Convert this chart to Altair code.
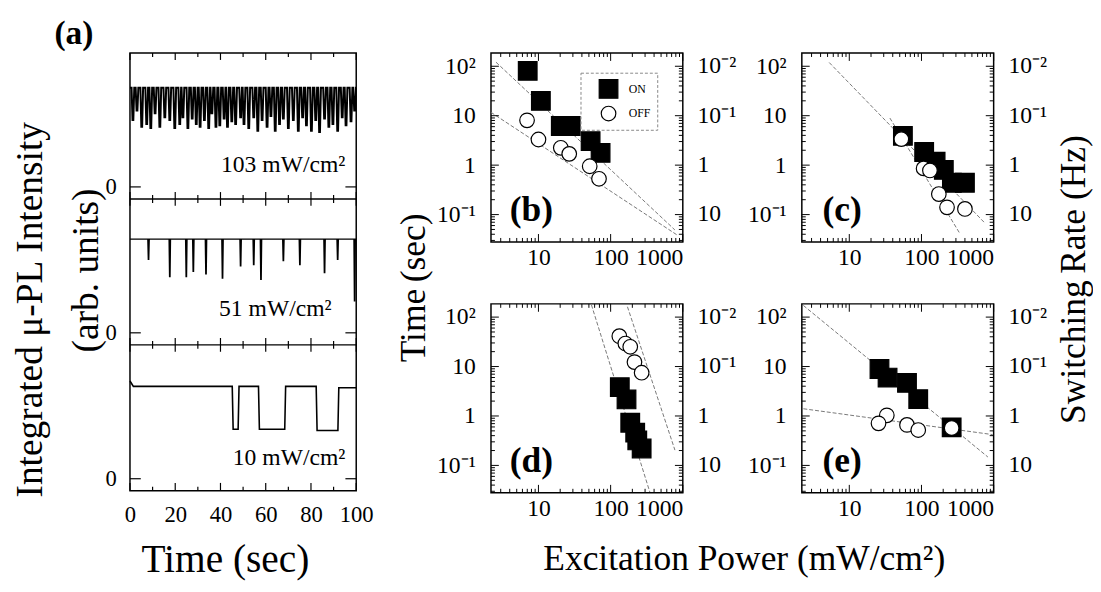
import altair as alt
import pandas as pd

FONT = "Liberation Serif"

# ---------------- (a) PL intensity traces ----------------
on_103 = 0.74
dip_t_103 = [1.3, 3.1, 5.2, 7.4, 9.2, 11.1, 13.2, 15.4, 17.6, 19.8, 22.0, 23.4, 25.6, 27.5, 29.3,
             31.0, 32.9, 34.8, 36.2, 38.0, 39.7, 41.6, 43.1, 45.0, 46.7, 48.9, 50.4, 52.5, 54.7,
             56.5, 58.4, 60.6, 62.3, 64.2, 66.1, 67.8, 70.0, 72.2, 74.4, 76.3, 78.0, 80.2, 82.1,
             83.8, 86.0, 87.9, 89.7, 91.8, 93.8, 95.5, 97.7, 99.3]
dip_v_103 = [0.50, 0.57, 0.45, 0.47, 0.44, 0.55, 0.45, 0.52, 0.50, 0.44, 0.47, 0.52, 0.44, 0.51, 0.47,
             0.45, 0.50, 0.44, 0.55, 0.45, 0.46, 0.51, 0.45, 0.49, 0.47, 0.52, 0.47, 0.44, 0.52,
             0.42, 0.50, 0.45, 0.53, 0.42, 0.47, 0.51, 0.44, 0.50, 0.42, 0.52, 0.46, 0.42, 0.50,
             0.41, 0.51, 0.45, 0.47, 0.42, 0.52, 0.46, 0.49, 0.57]
on_51 = 0.70
dip_t_51 = [8.2, 17.6, 24.9, 28.0, 33.6, 40.9, 48.9, 54.7, 57.9, 67.8, 75.1, 86.0, 91.8, 99.3]
dip_v_51 = [0.55, 0.42, 0.42, 0.46, 0.44, 0.41, 0.50, 0.51, 0.40, 0.54, 0.51, 0.45, 0.55, 0.24]
t_10 = [0, 1.5, 45.2, 45.6, 47.8, 48.2, 56.8, 57.2, 68.4, 68.8, 82.3, 82.7, 91.9, 92.3, 100]
v_10 = [0.73, 0.69, 0.69, 0.37, 0.37, 0.69, 0.69, 0.37, 0.37, 0.69, 0.69, 0.36, 0.36, 0.68, 0.68]
power_labels = ["103 mW/cm²", "51 mW/cm²", "10 mW/cm²"]
time_ticks_major = [0, 20, 40, 60, 80, 100]
time_ticks_minor = [10, 30, 50, 70, 90]

# ---------------- (b)-(e) ON/OFF times vs excitation power ----------------
b_on_p = [7.1, 10.8, 20.4, 28.0, 52.8, 72.6]
b_on_t = [80.8, 19.9, 6.2, 6.2, 3.05, 1.77]
b_off_p = [6.95, 10.0, 20.4, 26.7, 51.3, 69.0]
b_off_t = [8.05, 3.3, 2.24, 1.69, 0.95, 0.53]
b_fit_on = ([2.58, 776], [121, 0.049])
b_fit_off = ([2.2, 826], [11.7, 0.039])

c_on_p = [55.3, 109, 157, 204, 264, 400]
c_on_t = [3.92, 1.84, 1.17, 0.80, 0.44, 0.44]
c_off_p = [52.6, 107, 131, 174, 226, 400]
c_off_t = [3.36, 0.86, 0.78, 0.26, 0.14, 0.13]
c_fit_on = ([5.27, 755], [119, 0.0675])
c_fit_off = ([36.5, 335], [8.97, 0.043])

d_on_p = [134, 166, 187, 219, 234, 269]
d_on_t = [3.82, 2.16, 0.73, 0.46, 0.32, 0.22]
d_off_p = [132, 160, 187, 214, 269]
d_off_t = [41.1, 29.2, 25.1, 12.3, 7.5]
d_fit_on = ([54.2, 349], [177, 0.029])
d_fit_off = ([171, 778], [162, 0.204])

e_on_p = [26.2, 33.9, 63, 90.2, 262]
e_on_t = [8.9, 5.98, 4.67, 2.19, 0.59]
e_off_p = [33.1, 25.4, 63, 90.2, 262]
e_off_t = [1.03, 0.71, 0.66, 0.52, 0.57]
e_fit_on = ([2.31, 832], [172, 0.148])
e_fit_off = ([2.31, 970], [1.40, 0.42])

X_MAJOR = [10, 100, 1000]
X_MINOR = [3, 4, 5, 6, 7, 8, 9, 20, 30, 40, 50, 60, 70, 80, 90,
           200, 300, 400, 500, 600, 700, 800, 900]
Y_MAJOR = [0.1, 1, 10, 100]
Y_MINOR = [0.03, 0.04, 0.05, 0.06, 0.07, 0.08, 0.09, 0.2, 0.3, 0.4, 0.5, 0.6, 0.7, 0.8, 0.9,
           2, 3, 4, 5, 6, 7, 8, 9, 20, 30, 40, 50, 60, 70, 80, 90]
RATE_LABELS = ["10", "1", "10⁻¹", "10⁻²"]   # switching rate = 1 / time at Y_MAJOR

# ---------------- layout constants ----------------
XDOM = [2.2, 1000]
YDOM = [0.028, 185]
PW, PH = 195, 192
A_W, A_H = 230, 445
SUB = 1.09
ZOFF = 0.09
A_SPAN = 3 * SUB
U = A_SPAN / A_H

LEFT_EXPR = "datum.value > 50 ? '10²' : datum.value > 5 ? '10' : datum.value > 0.5 ? '1' : '10⁻¹'"


def text_layer(s, x, y, size, weight="normal", angle=0, align="center", baseline="middle"):
    kw = dict(font=FONT, fontSize=size, fontWeight=weight, align=align, baseline=baseline, color="black")
    if angle:
        kw["angle"] = angle
    return alt.Chart(pd.DataFrame({"s": [s]})).mark_text(**kw).encode(
        text="s:N", x=alt.value(x), y=alt.value(y))


# ---------------- power panels ----------------
def power_panel(tag, on_p, on_t, off_p, off_t, fit_on, fit_off, legend=None, extra=()):
    xs = alt.Scale(type="log", domain=XDOM, nice=False)
    ys = alt.Scale(type="log", domain=YDOM, nice=False)
    xa = alt.Axis(values=X_MAJOR, format="d", labelFontSize=24, labelPadding=4, labelFlush=True,
                  title=None)
    ya = alt.Axis(values=Y_MAJOR, labelExpr=LEFT_EXPR, labelFontSize=24, labelPadding=16,
                  title=None)
    n_on, n_off = len(on_p), len(off_p)
    pts = pd.DataFrame({
        "p": on_p + off_p, "t": on_t + off_t,
        "state": ["ON"] * n_on + ["OFF"] * n_off,
        "k": list(range(n_on + n_off)),
    })
    fit_df = pd.DataFrame({
        "p": fit_on[0] + fit_off[0], "t": fit_on[1] + fit_off[1],
        "fit": ["on", "on", "off", "off"],
    })
    st_dom = ["ON", "OFF"]
    lines = alt.Chart(fit_df).mark_line(color="#777", strokeWidth=1, strokeDash=[4, 2], clip=True).encode(
        x=alt.X("p:Q", scale=xs, axis=xa), y=alt.Y("t:Q", scale=ys, axis=ya), detail="fit:N")
    marks = alt.Chart(pts).mark_point(filled=True, strokeWidth=1.2, opacity=1).encode(
        x=alt.X("p:Q", scale=xs, axis=xa),
        y=alt.Y("t:Q", scale=ys, axis=ya),
        shape=alt.Shape("state:N", scale=alt.Scale(domain=st_dom, range=["square", "circle"]), legend=legend),
        fill=alt.Fill("state:N", scale=alt.Scale(domain=st_dom, range=["black", "white"]), legend=legend),
        stroke=alt.Stroke("state:N", scale=alt.Scale(domain=st_dom, range=["black", "black"]), legend=legend),
        size=alt.Size("state:N", scale=alt.Scale(domain=st_dom, range=[360, 220]), legend=legend),
        order=alt.Order("k:Q"))

    def xt(vals, L, top):
        y = alt.value(0) if top else alt.value(PH - L)
        y2 = alt.value(L) if top else alt.value(PH)
        return alt.Chart(pd.DataFrame({"v": vals})).mark_rule(color="black", strokeWidth=1).encode(
            x=alt.X("v:Q", scale=xs, axis=xa), y=y, y2=y2)

    def yt(vals, L, right):
        x = alt.value(PW - L) if right else alt.value(0)
        x2 = alt.value(PW) if right else alt.value(L)
        return alt.Chart(pd.DataFrame({"v": vals})).mark_rule(color="black", strokeWidth=1).encode(
            y=alt.Y("v:Q", scale=ys, axis=ya), x=x, x2=x2)

    right_labels = alt.Chart(pd.DataFrame({"v": Y_MAJOR, "lab": RATE_LABELS})).mark_text(
        font=FONT, fontSize=24, align="left", baseline="middle", color="black").encode(
        y=alt.Y("v:Q", scale=ys, axis=ya), x=alt.value(PW + 15), text="lab:N")
    layers = [
        lines, marks,
        xt(X_MAJOR, 8, False), xt(X_MINOR, 4, False), xt(X_MAJOR, 8, True), xt(X_MINOR, 4, True),
        yt(Y_MAJOR, 8, False), yt(Y_MINOR, 4, False), yt(Y_MAJOR, 8, True), yt(Y_MINOR, 4, True),
        right_labels,
        text_layer(tag, 41, 160, 36, weight="bold"),
    ]
    for e in extra:
        layers.append(text_layer(*e))
    return alt.layer(*layers).properties(width=PW, height=PH)


leg = alt.Legend(title=None, orient="none", legendX=91, legendY=20, padding=6, symbolOffset=12,
                 labelOffset=10, labelFontSize=12, labelFont=FONT, rowPadding=2,
                 strokeColor="#888", symbolStrokeWidth=1.2)

panel_b = power_panel("(b)", b_on_p, b_on_t, b_off_p, b_off_t, b_fit_on, b_fit_off, legend=leg,
                      extra=[("(sec)", -78, 198, 36, "normal", 270)])
panel_c = power_panel("(c)", c_on_p, c_on_t, c_off_p, c_off_t, c_fit_on, c_fit_off,
                      extra=[("Rate (Hz)", 277, 154, 36, "normal", 270)])
panel_d = power_panel("(d)", d_on_p, d_on_t, d_off_p, d_off_t, d_fit_on, d_fit_off,
                      extra=[("Time", -78, 22, 36, "normal", 270)])
panel_e = power_panel("(e)", e_on_p, e_on_t, e_off_p, e_off_t, e_fit_on, e_fit_off,
                      extra=[("Switching", 277, 49, 36, "normal", 270)])


# ---------------- (a) stacked traces ----------------
def spike_trace(on, ts, vs, half):
    tt, vv = [0.0], [on]
    for t, v in zip(ts, vs):
        tt += [t - half, t - half * 0.3, t + half * 0.3, min(t + half, 100.0)]
        vv += [on, v, v, on]
    if tt[-1] < 100:
        tt.append(100.0)
        vv.append(on)
    return tt, vv


def trace_df(tt, vv, k):
    base = k * SUB + ZOFF
    return pd.DataFrame({"i": list(range(len(tt))), "t": tt, "v": [x + base for x in vv]})


t103, v103 = spike_trace(on_103, dip_t_103, dip_v_103, 0.6)
t51, v51 = spike_trace(on_51, dip_t_51, dip_v_51, 0.3)

XS_A = alt.Scale(domain=[0, 100], nice=False, zero=False)
YS_A = alt.Scale(domain=[0, A_SPAN], nice=False, zero=False)
ZEROS = [ZOFF, SUB + ZOFF, 2 * SUB + ZOFF]
XA_A = alt.Axis(values=time_ticks_major, format="d", labelFontSize=23, labelPadding=13,
                title=None, labelFlush=False)
YA_A = alt.Axis(values=ZEROS, labelExpr="'0'", labelFontSize=23, labelPadding=14, title=None)


def trace_layer(df, width):
    return alt.Chart(df).mark_line(color="black", strokeWidth=width).encode(
        x=alt.X("t:Q", scale=XS_A, axis=XA_A), y=alt.Y("v:Q", scale=YS_A, axis=YA_A), order="i:Q")


def a_ticks(vals, y0, y1):
    return alt.Chart(pd.DataFrame({"v": vals})).mark_rule(color="black", strokeWidth=1.2).encode(
        x=alt.X("v:Q", scale=XS_A, axis=XA_A),
        y=alt.YDatum(y0, scale=YS_A, axis=YA_A), y2=alt.Y2Datum(y1))


a_layers = [
    trace_layer(trace_df(t103, v103, 2), 2.0),
    trace_layer(trace_df(t51, v51, 1), 1.4),
    trace_layer(trace_df(t_10, v_10, 0), 1.6),
    alt.Chart(pd.DataFrame({"b": [SUB, 2 * SUB]})).mark_rule(color="black", strokeWidth=1.5).encode(
        y=alt.Y("b:Q", scale=YS_A, axis=YA_A)),
    a_ticks(time_ticks_major, A_SPAN, A_SPAN - 7 * U),
    a_ticks(time_ticks_minor, A_SPAN, A_SPAN - 4 * U),
    a_ticks(time_ticks_major, 0, 8 * U),
    a_ticks(time_ticks_minor, 0, 4 * U),
]
for bv in (SUB, 2 * SUB):
    a_layers.append(a_ticks(time_ticks_major, bv - 7 * U, bv + 7 * U))
    a_layers.append(a_ticks(time_ticks_minor, bv - 4 * U, bv + 4 * U))
zdf = pd.DataFrame({"z": ZEROS})
a_layers.append(alt.Chart(zdf).mark_rule(color="black", strokeWidth=1.2).encode(
    y=alt.Y("z:Q", scale=YS_A, axis=YA_A), x=alt.value(0), x2=alt.value(11)))
a_layers.append(alt.Chart(zdf).mark_rule(color="black", strokeWidth=1.2).encode(
    y=alt.Y("z:Q", scale=YS_A, axis=YA_A), x=alt.value(A_W - 11), x2=alt.value(A_W)))
for tx in [("Integrated μ-PL Intensity", -100, 261, 38, "normal", 270),
           ("(arb. units)", -43, 221, 38, "normal", 270),
           (power_labels[0], 219, 121, 24, "normal", 0, "right", "alphabetic"),
           (power_labels[1], 205, 267, 24, "normal", 0, "right", "alphabetic"),
           (power_labels[2], 219, 419, 24, "normal", 0, "right", "alphabetic"),
           ("Time (sec)", 97, 516, 40)]:
    a_layers.append(text_layer(*tx))
panel_a = alt.layer(*a_layers).properties(width=A_W, height=A_H)

IND = dict(shape="independent", fill="independent", size="independent", stroke="independent")

col_bd = alt.vconcat(panel_b, panel_d, spacing=4).resolve_scale(**IND).resolve_legend(**IND)
col_ce = alt.vconcat(panel_c, panel_e, spacing=4).resolve_scale(**IND).resolve_legend(**IND)
right = alt.hconcat(
    col_bd, col_ce, spacing=10,
    title=alt.TitleParams("Excitation Power (mW/cm²)", orient="bottom", anchor="middle",
                          font=FONT, fontSize=36, fontWeight="normal", offset=22, color="black"),
).resolve_scale(**IND).resolve_legend(**IND)

chart = alt.hconcat(
    panel_a, right, spacing=22,
    title=alt.TitleParams("(a)", anchor="start", font=FONT, fontSize=34, fontWeight="bold",
                          dx=43, offset=1, color="black"),
).resolve_scale(**IND).resolve_legend(**IND).properties(
    padding={"left": 4, "top": 4, "right": 0, "bottom": 0}
).configure(
    font=FONT
).configure_view(
    stroke="black", strokeWidth=1.5
).configure_axis(
    labelFont=FONT, labelColor="black", grid=False, domain=False, ticks=False, labelOverlap=False
).configure_legend(
    strokeDash=[3, 2]
)

chart.save("out.html", embed_options={"renderer": "svg", "actions": False})
